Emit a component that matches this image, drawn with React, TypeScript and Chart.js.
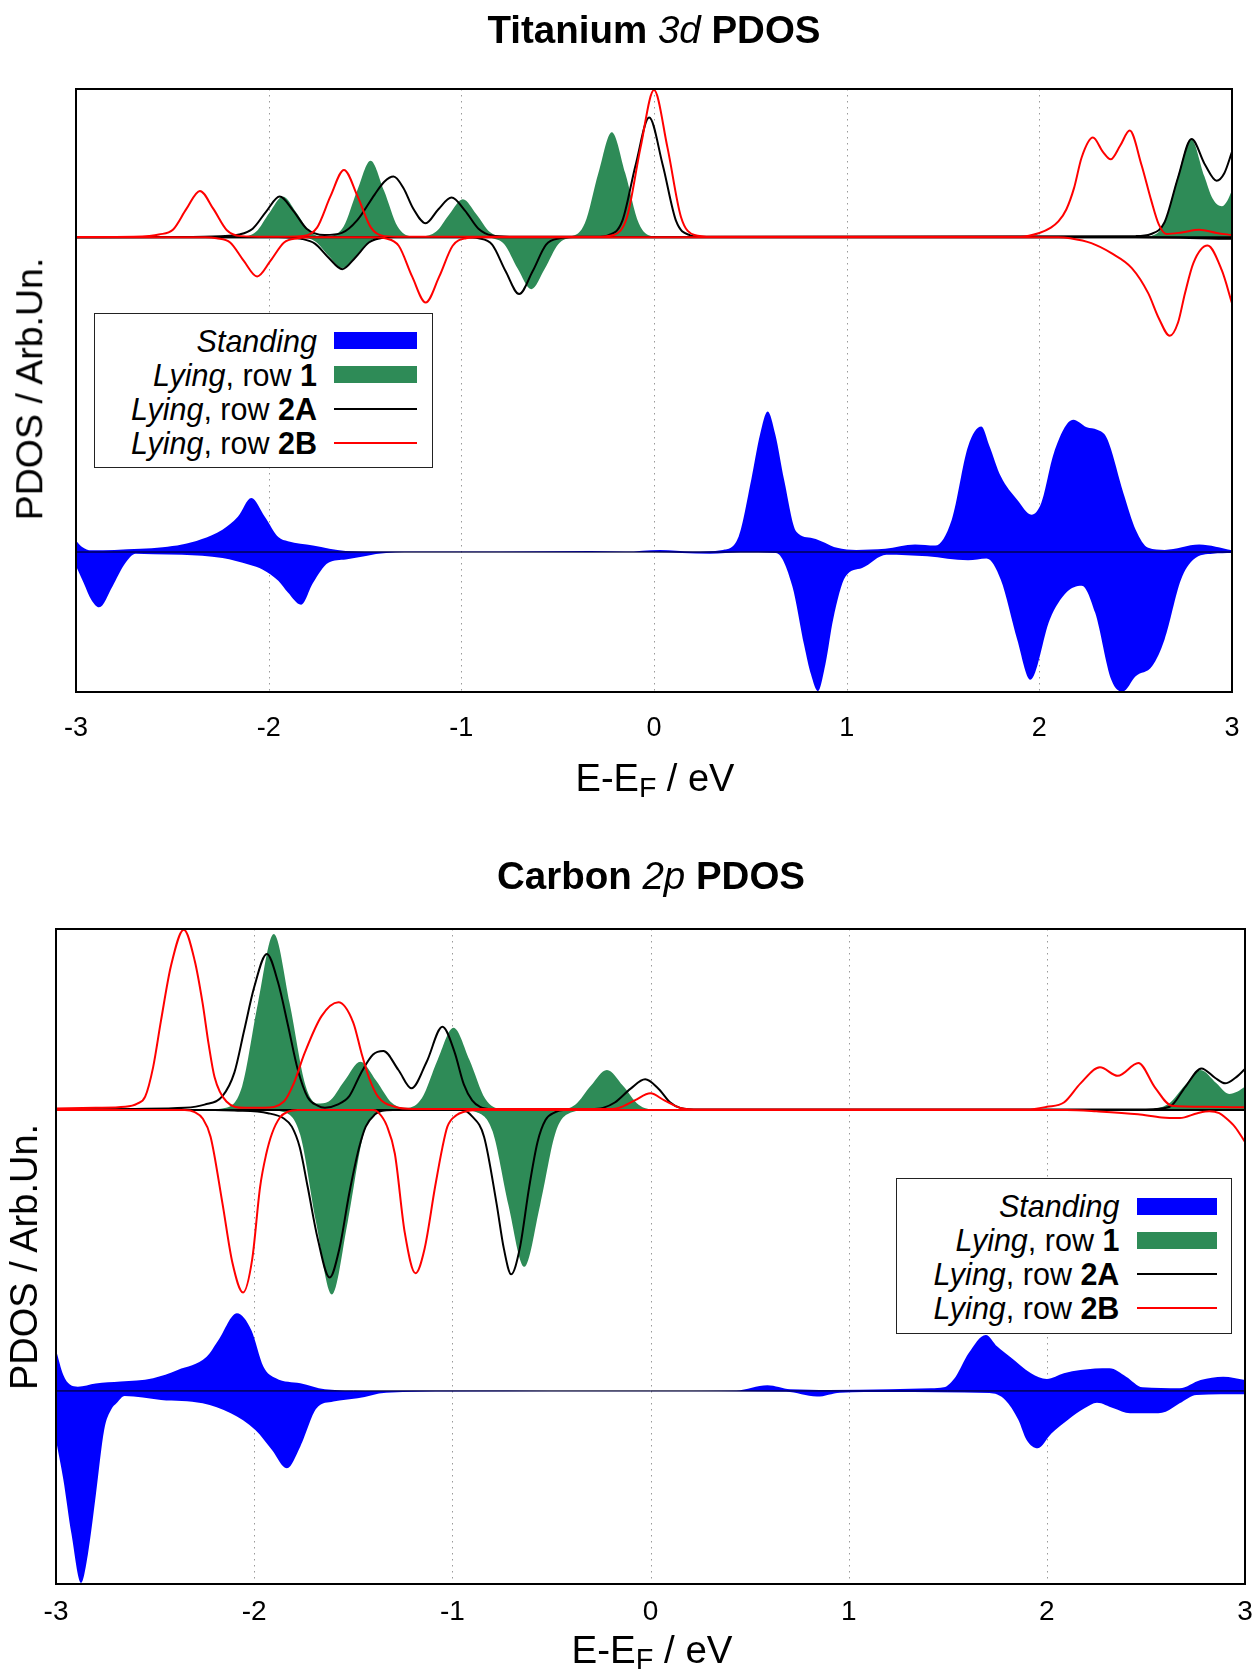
import React, { useEffect, useRef } from "react";
import { Chart, registerables } from "chart.js";

Chart.register(...registerables);

type Pt = [number, number];

const FONT = "'Liberation Sans', Arial, Helvetica, sans-serif";

// x axis tick labels (eV) and dotted grid positions
const xTickValues = [-3, -2, -1, 0, 1, 2, 3];
const gridValues = [-2, -1, 0, 1, 2];

// ---------------- Titanium 3d PDOS ----------------
// [E - E_F (eV), PDOS (arb.)]; "Up" = positive spin channel, "Dn" = negative
const tiRow1Up: Pt[] = [
  [-3, 0], [-2.2, 0], [-2.13, 0.005], [-2.066, 0.05], [-1.996, 0.23], [-1.926, 0.381], [-1.856, 0.23],
  [-1.786, 0.05], [-1.72, 0.006], [-1.68, 0.01], [-1.611, 0.1], [-1.541, 0.435], [-1.471, 0.716],
  [-1.401, 0.435], [-1.331, 0.1], [-1.262, 0.01], [-1.202, 0.008], [-1.132, 0.05], [-1.062, 0.216],
  [-0.992, 0.356], [-0.922, 0.216], [-0.852, 0.048], [-0.782, 0.004], [-0.6, 0], [-0.43, 0.01],
  [-0.359, 0.13], [-0.289, 0.6], [-0.219, 0.984], [-0.149, 0.6], [-0.079, 0.13], [-0.01, 0.01],
  [0.1, 0], [2.5, 0], [2.577, 0.01], [2.647, 0.125], [2.717, 0.56], [2.787, 0.922], [2.857, 0.57],
  [2.9, 0.36], [2.947, 0.29], [2.975, 0.34], [3.0, 0.44],
];
const tiRow1Dn: Pt[] = [
  [-3, 0], [-1.85, 0], [-1.828, -0.004], [-1.758, -0.04], [-1.688, -0.176], [-1.618, -0.29],
  [-1.548, -0.176], [-1.478, -0.04], [-1.408, -0.004], [-1.3, 0], [-0.86, 0], [-0.847, -0.005],
  [-0.777, -0.066], [-0.707, -0.296], [-0.637, -0.4875], [-0.567, -0.296], [-0.497, -0.066],
  [-0.427, -0.005], [-0.35, 0], [3, 0],
];
const tiRow2AUp: Pt[] = [
  [-3, 0], [-2.5, 0.002], [-2.25, 0.01], [-2.153, 0.025], [-2.083, 0.08], [-2.013, 0.24], [-1.943, 0.381],
  [-1.873, 0.25], [-1.803, 0.08], [-1.71, 0.02], [-1.62, 0.04], [-1.54, 0.16], [-1.45, 0.4], [-1.4, 0.52],
  [-1.352, 0.569], [-1.3, 0.46], [-1.25, 0.27], [-1.185, 0.131], [-1.12, 0.26], [-1.051, 0.372],
  [-0.981, 0.25], [-0.911, 0.08], [-0.84, 0.015], [-0.75, 0.004], [-0.3, 0.004], [-0.235, 0.02],
  [-0.165, 0.15], [-0.095, 0.68], [-0.025, 1.122], [0.045, 0.68], [0.115, 0.15], [0.185, 0.02],
  [0.25, 0.004], [2.5, 0.01], [2.58, 0.03], [2.65, 0.14], [2.72, 0.56], [2.79, 0.922], [2.86, 0.68],
  [2.92, 0.53], [2.96, 0.6], [3.0, 0.8],
];
const tiRow2ADn: Pt[] = [
  [-3, 0], [-1.95, 0], [-1.9, -0.004], [-1.83, -0.015], [-1.76, -0.06], [-1.69, -0.19], [-1.618, -0.3],
  [-1.55, -0.19], [-1.48, -0.05], [-1.42, -0.01], [-1.35, 0], [-0.98, 0], [-0.91, -0.01], [-0.84, -0.07],
  [-0.77, -0.32], [-0.7, -0.534], [-0.63, -0.32], [-0.56, -0.07], [-0.49, -0.01], [-0.42, 0], [2.5, 0],
  [3.0, -0.015],
];
const tiRow2BUp: Pt[] = [
  [-3, 0.002], [-2.7, 0.005], [-2.62, 0.012], [-2.57, 0.025], [-2.497, 0.07], [-2.427, 0.265],
  [-2.357, 0.434], [-2.287, 0.265], [-2.217, 0.065], [-2.147, 0.01], [-2.0, 0.003], [-1.82, 0.012],
  [-1.749, 0.09], [-1.679, 0.385], [-1.609, 0.631], [-1.539, 0.385], [-1.469, 0.09], [-1.4, 0.01],
  [-1.3, 0.003], [-0.3, 0.003], [-0.21, 0.02], [-0.14, 0.19], [-0.07, 0.84], [0.0, 1.38], [0.07, 0.84],
  [0.14, 0.19], [0.21, 0.02], [0.3, 0.003], [1.9, 0.005], [2.0, 0.04], [2.06, 0.09], [2.1, 0.15],
  [2.14, 0.26], [2.18, 0.46], [2.22, 0.75], [2.278, 0.934], [2.33, 0.8], [2.37, 0.73], [2.42, 0.86],
  [2.469, 1.0], [2.53, 0.68], [2.58, 0.35], [2.62, 0.12], [2.66, 0.03], [2.74, 0.045], [2.83, 0.07],
  [2.92, 0.04], [3.0, 0.02],
];
const tiRow2BDn: Pt[] = [
  [-3, 0], [-2.33, 0], [-2.27, -0.01], [-2.2, -0.05], [-2.13, -0.22], [-2.06, -0.369], [-1.99, -0.22],
  [-1.92, -0.05], [-1.85, -0.01], [-1.79, 0], [-1.45, 0], [-1.395, -0.01], [-1.325, -0.08],
  [-1.255, -0.37], [-1.185, -0.6125], [-1.115, -0.37], [-1.045, -0.08], [-0.975, -0.01], [-0.9, 0],
  [2.1, 0], [2.16, -0.01], [2.27, -0.056], [2.374, -0.15], [2.48, -0.29], [2.565, -0.525], [2.62, -0.76],
  [2.677, -0.925], [2.72, -0.8], [2.756, -0.525], [2.8, -0.24], [2.873, -0.078], [2.947, -0.31],
  [3.0, -0.62],
];
const tiStandUp: Pt[] = [
  [-3, 0.106], [-2.97, 0.05], [-2.92, 0.016], [-2.8, 0.02], [-2.665, 0.03], [-2.55, 0.045], [-2.45, 0.07],
  [-2.35, 0.12], [-2.24, 0.21], [-2.16, 0.33], [-2.09, 0.506], [-2.02, 0.33], [-1.95, 0.14], [-1.9, 0.1],
  [-1.77, 0.06], [-1.6, 0.01], [-1.4, 0.005], [-0.8, 0.004], [-0.33, 0.01], [-0.15, 0.004], [0.03, 0.02],
  [0.2, 0.005], [0.357, 0.02], [0.44, 0.147], [0.505, 0.68], [0.55, 1.1], [0.59, 1.319], [0.63, 1.1],
  [0.675, 0.68], [0.739, 0.19], [0.824, 0.13], [0.95, 0.04], [1.05, 0.02], [1.2, 0.03], [1.355, 0.07],
  [1.46, 0.06], [1.545, 0.3], [1.63, 0.99], [1.699, 1.178], [1.74, 1.0], [1.8, 0.71], [1.885, 0.49],
  [1.96, 0.35], [2.01, 0.46], [2.076, 0.93], [2.176, 1.24], [2.246, 1.17], [2.3, 1.147], [2.35, 1.07],
  [2.437, 0.55], [2.5, 0.21], [2.565, 0.04], [2.65, 0.02], [2.83, 0.07], [3.0, 0.016],
];
const tiStandDn: Pt[] = [
  [-3, -0.13], [-2.96, -0.29], [-2.92, -0.45], [-2.88, -0.519], [-2.81, -0.32], [-2.75, -0.12],
  [-2.69, -0.016], [-2.6, -0.02], [-2.45, -0.025], [-2.24, -0.056], [-2.1, -0.12], [-2.03, -0.166],
  [-1.95, -0.27], [-1.9, -0.38], [-1.832, -0.494], [-1.77, -0.29], [-1.69, -0.1], [-1.6, -0.07],
  [-1.39, -0.01], [-1.2, -0.003], [0.0, -0.003], [0.29, -0.016], [0.45, -0.005], [0.633, -0.01],
  [0.718, -0.32], [0.78, -0.88], [0.815, -1.15], [0.851, -1.306], [0.89, -1.05], [0.93, -0.63],
  [0.994, -0.23], [1.08, -0.15], [1.206, -0.025], [1.418, -0.04], [1.63, -0.078], [1.726, -0.06],
  [1.8, -0.26], [1.885, -0.82], [1.953, -1.197], [2.055, -0.63], [2.14, -0.38], [2.22, -0.316],
  [2.29, -0.57], [2.374, -1.2], [2.433, -1.31], [2.5, -1.166], [2.586, -1.07], [2.65, -0.82],
  [2.735, -0.26], [2.8, -0.07], [2.9, -0.016], [3.0, -0.01],
];

// ---------------- Carbon 2p PDOS ----------------
const cRow1Up: Pt[] = [
  [-3, 0], [-2.25, 0.003], [-2.141, 0.02], [-2.061, 0.22], [-1.981, 1.0], [-1.901, 1.65], [-1.821, 1.0],
  [-1.741, 0.23], [-1.68, 0.06], [-1.624, 0.08], [-1.544, 0.275], [-1.464, 0.453], [-1.384, 0.275],
  [-1.304, 0.065], [-1.23, 0.02], [-1.154, 0.11], [-1.074, 0.47], [-0.994, 0.77], [-0.914, 0.47],
  [-0.834, 0.105], [-0.754, 0.01], [-0.6, 0.002], [-0.46, 0.005], [-0.38, 0.05], [-0.3, 0.23],
  [-0.22, 0.375], [-0.14, 0.23], [-0.06, 0.05], [0.02, 0.005], [0.2, 0], [2.45, 0.002], [2.536, 0.01],
  [2.616, 0.06], [2.696, 0.23], [2.776, 0.375], [2.856, 0.25], [2.92, 0.15], [2.96, 0.17], [3.0, 0.22],
];
const cRow1Dn: Pt[] = [
  [-3, 0], [-1.95, 0], [-1.848, -0.02], [-1.768, -0.23], [-1.688, -1.05], [-1.608, -1.73],
  [-1.528, -1.05], [-1.448, -0.23], [-1.368, -0.02], [-1.28, 0], [-0.96, 0], [-0.877, -0.02],
  [-0.797, -0.2], [-0.717, -0.89], [-0.637, -1.47], [-0.557, -0.89], [-0.477, -0.2], [-0.397, -0.02],
  [-0.31, 0], [3, 0],
];
const cRow2AUp: Pt[] = [
  [-3, 0.005], [-2.6, 0.01], [-2.35, 0.02], [-2.25, 0.05], [-2.16, 0.13], [-2.1, 0.35], [-2.05, 0.75],
  [-2.0, 1.15], [-1.936, 1.4625], [-1.88, 1.2], [-1.83, 0.8], [-1.78, 0.38], [-1.73, 0.12], [-1.68, 0.04],
  [-1.643, 0.02], [-1.58, 0.05], [-1.52, 0.13], [-1.46, 0.35], [-1.4, 0.52], [-1.348, 0.553],
  [-1.272, 0.375], [-1.206, 0.203], [-1.13, 0.45], [-1.05, 0.78], [-0.99, 0.55], [-0.942, 0.24],
  [-0.9, 0.09], [-0.86, 0.03], [-0.8, 0.01], [-0.3, 0.01], [-0.24, 0.02], [-0.18, 0.07], [-0.1, 0.2],
  [-0.027, 0.2875], [0.04, 0.2], [0.1, 0.07], [0.15, 0.02], [0.25, 0.005], [2.5, 0.005], [2.62, 0.03],
  [2.7, 0.22], [2.78, 0.39], [2.85, 0.3], [2.9, 0.25], [2.95, 0.3], [3.0, 0.384],
];
const cRow2ADn: Pt[] = [
  [-3, 0], [-2.2, 0], [-2.1, -0.005], [-1.93, -0.03], [-1.85, -0.08], [-1.81, -0.156], [-1.77, -0.35],
  [-1.73, -0.72], [-1.68, -1.2], [-1.619, -1.57], [-1.57, -1.3], [-1.52, -0.78], [-1.47, -0.35],
  [-1.437, -0.156], [-1.39, -0.04], [-1.355, -0.006], [-1.3, 0], [-0.95, 0], [-0.9, -0.06],
  [-0.84, -0.25], [-0.777, -0.875], [-0.74, -1.3], [-0.703, -1.54], [-0.66, -1.3], [-0.612, -0.72],
  [-0.57, -0.3], [-0.53, -0.094], [-0.48, -0.02], [-0.44, 0], [3, 0],
];
const cRow2BUp: Pt[] = [
  [-3, 0.015], [-2.8, 0.02], [-2.65, 0.03], [-2.59, 0.06], [-2.55, 0.125], [-2.51, 0.4], [-2.47, 0.84],
  [-2.42, 1.35], [-2.355, 1.69], [-2.3, 1.4], [-2.26, 1.0], [-2.23, 0.62], [-2.2, 0.31], [-2.14, 0.08],
  [-2.05, 0.02], [-1.95, 0.02], [-1.85, 0.08], [-1.8, 0.25], [-1.746, 0.53], [-1.66, 0.88],
  [-1.575, 1.01], [-1.5, 0.82], [-1.458, 0.53], [-1.42, 0.3], [-1.375, 0.125], [-1.29, 0.03],
  [-1.2, 0.01], [-0.2, 0.01], [-0.16, 0.02], [-0.08, 0.09], [0.0, 0.156], [0.07, 0.09], [0.15, 0.02],
  [0.25, 0.005], [1.9, 0.005], [2.0, 0.03], [2.086, 0.07], [2.17, 0.25], [2.268, 0.4], [2.358, 0.32],
  [2.462, 0.44], [2.546, 0.21], [2.63, 0.04], [2.8, 0.03], [3.0, 0.025],
];
const cRow2BDn: Pt[] = [
  [-3, 0], [-2.35, 0], [-2.3, -0.02], [-2.26, -0.08], [-2.22, -0.25], [-2.16, -0.875], [-2.11, -1.43],
  [-2.056, -1.71], [-2.01, -1.4], [-1.97, -0.72], [-1.94, -0.42], [-1.91, -0.22], [-1.87, -0.07],
  [-1.83, -0.016], [-1.78, 0], [-1.4, 0], [-1.375, -0.02], [-1.33, -0.15], [-1.29, -0.41],
  [-1.24, -1.15], [-1.186, -1.53], [-1.14, -1.3], [-1.087, -0.72], [-1.05, -0.35], [-1.025, -0.156],
  [-0.98, -0.05], [-0.94, -0.016], [-0.88, 0], [2.1, 0], [2.25, -0.012], [2.46, -0.04], [2.58, -0.07],
  [2.672, -0.075], [2.76, -0.03], [2.82, -0.012], [2.87, -0.03], [2.9, -0.07], [2.95, -0.16],
  [3.0, -0.3],
];
const cStandUp: Pt[] = [
  [-3, 0.384], [-2.963, 0.15], [-2.93, 0.06], [-2.89, 0.04], [-2.8, 0.07], [-2.674, 0.0875],
  [-2.51, 0.12], [-2.386, 0.197], [-2.24, 0.32], [-2.18, 0.478], [-2.087, 0.728], [-2.014, 0.57],
  [-1.953, 0.228], [-1.89, 0.12], [-1.767, 0.072], [-1.643, 0.016], [-1.44, 0.003], [-0.94, 0.005],
  [-0.5, 0.003], [0.0, 0.003], [0.433, 0.005], [0.59, 0.053], [0.705, 0.016], [0.9, 0.01],
  [1.207, 0.016], [1.416, 0.025], [1.48, 0.034], [1.54, 0.134], [1.605, 0.353], [1.692, 0.525],
  [1.75, 0.416], [1.814, 0.32], [1.92, 0.166], [2.0, 0.1125], [2.086, 0.166], [2.17, 0.197],
  [2.316, 0.2125], [2.4, 0.134], [2.483, 0.034], [2.67, 0.025], [2.776, 0.103], [2.89, 0.134],
  [3.0, 0.103],
];
const cStandDn: Pt[] = [
  [-3, -0.46], [-2.963, -0.83], [-2.922, -1.34], [-2.874, -1.8], [-2.839, -1.53], [-2.798, -0.96],
  [-2.757, -0.366], [-2.72, -0.17], [-2.695, -0.116], [-2.654, -0.047], [-2.47, -0.084],
  [-2.26, -0.116], [-2.118, -0.21], [-1.994, -0.366], [-1.91, -0.553], [-1.835, -0.725],
  [-1.767, -0.52], [-1.685, -0.1625], [-1.6, -0.1], [-1.478, -0.069], [-1.334, -0.016], [-1.0, -0.005],
  [0.0, -0.003], [0.684, -0.008], [0.84, -0.053], [0.956, -0.016], [1.2, -0.01], [1.71, -0.02],
  [1.79, -0.084], [1.856, -0.27], [1.898, -0.46], [1.954, -0.5375], [2.023, -0.4], [2.107, -0.27],
  [2.19, -0.1625], [2.253, -0.11], [2.337, -0.1625], [2.42, -0.21], [2.525, -0.21], [2.6, -0.194],
  [2.67, -0.116], [2.755, -0.0375], [3.0, -0.03],
];

const COLORS = { standing: "#0000ff", row1: "#2e8b57", row2A: "#000000", row2B: "#ff0000" };

interface PanelData {
  standUp: Pt[]; standDn: Pt[]; row1Up: Pt[]; row1Dn: Pt[];
  r2aUp: Pt[]; r2aDn: Pt[]; r2bUp: Pt[]; r2bDn: Pt[];
  standOffset: number; yMin: number; yMax: number;
}

const tiPanel: PanelData = {
  standUp: tiStandUp, standDn: tiStandDn, row1Up: tiRow1Up, row1Dn: tiRow1Dn,
  r2aUp: tiRow2AUp, r2aDn: tiRow2ADn, r2bUp: tiRow2BUp, r2bDn: tiRow2BDn,
  standOffset: -2.953, yMin: -4.266, yMax: 1.39,
};
const cPanel: PanelData = {
  standUp: cStandUp, standDn: cStandDn, row1Up: cRow1Up, row1Dn: cRow1Dn,
  r2aUp: cRow2AUp, r2aDn: cRow2ADn, r2bUp: cRow2BUp, r2bDn: cRow2BDn,
  standOffset: -2.634, yMin: -4.444, yMax: 1.697,
};

const gridFramePlugin = {
  id: "gridFrame",
  beforeDatasetsDraw(chart: any) {
    const { ctx, chartArea: a, scales } = chart;
    ctx.save();
    ctx.strokeStyle = "#9a9a9a";
    ctx.lineWidth = 1;
    ctx.setLineDash([1.5, 4.5]);
    for (const v of gridValues) {
      const px = Math.round(scales.x.getPixelForValue(v)) + 0.5;
      ctx.beginPath();
      ctx.moveTo(px, a.top);
      ctx.lineTo(px, a.bottom);
      ctx.stroke();
    }
    ctx.restore();
  },
  afterDatasetsDraw(chart: any) {
    const { ctx, chartArea: a } = chart;
    ctx.save();
    ctx.strokeStyle = "#000";
    ctx.lineWidth = 2;
    ctx.setLineDash([]);
    ctx.strokeRect(a.left, a.top, a.right - a.left, a.bottom - a.top);
    ctx.restore();
  },
};

interface ChartLayout {
  top: number; height: number; padLeft: number; padRight: number; padTop: number;
  xAxisHeight: number; tickSize: number; tickPad: number;
}

function PdosChart({ data, layout }: { data: PanelData; layout: ChartLayout }) {
  const ref = useRef<HTMLCanvasElement>(null);
  useEffect(() => {
    if (!ref.current) return;
    const toXY = (pts: Pt[], off: number) => pts.map(([x, y]) => ({ x, y: y + off }));
    const fillDs = (pts: Pt[], off: number, color: string, order: number) => ({
      data: toXY(pts, off), borderWidth: 0, borderColor: color, backgroundColor: color,
      fill: { value: off }, pointRadius: 0, cubicInterpolationMode: "monotone", order,
    });
    const lineDs = (pts: Pt[], off: number, color: string, width: number, order: number) => ({
      data: toXY(pts, off), borderWidth: width, borderColor: color, backgroundColor: color,
      fill: false, pointRadius: 0, cubicInterpolationMode: "monotone", order,
    });
    const so = data.standOffset;
    const baseline: Pt[] = [[-3, 0], [3, 0]];
    const chart = new Chart(ref.current, {
      type: "line",
      data: {
        datasets: [
          fillDs(data.standUp, so, COLORS.standing, 10),
          fillDs(data.standDn, so, COLORS.standing, 10),
          fillDs(data.row1Up, 0, COLORS.row1, 9),
          fillDs(data.row1Dn, 0, COLORS.row1, 9),
          lineDs(baseline, so, "#000", 1, 5),
          lineDs(baseline, 0, "#000", 2, 5),
          lineDs(data.r2aUp, 0, COLORS.row2A, 2, 2),
          lineDs(data.r2aDn, 0, COLORS.row2A, 2, 2),
          lineDs(data.r2bUp, 0, COLORS.row2B, 2, 1),
          lineDs(data.r2bDn, 0, COLORS.row2B, 2, 1),
        ] as any,
      },
      options: {
        animation: false,
        responsive: false,
        devicePixelRatio: 1,
        layout: { padding: { left: layout.padLeft, right: layout.padRight, top: layout.padTop, bottom: 0 } },
        plugins: { legend: { display: false }, tooltip: { enabled: false }, title: { display: false } },
        scales: {
          x: {
            type: "linear", min: -3, max: 3,
            afterBuildTicks: (s: any) => { s.ticks = xTickValues.map((v) => ({ value: v })); },
            afterFit: (s: any) => {
              s.height = layout.xAxisHeight;
              s.paddingLeft = 0;
              s.paddingRight = 0;
            },
            grid: { display: false, drawTicks: false },
            border: { display: false },
            ticks: {
              color: "#000", font: { family: FONT, size: layout.tickSize },
              padding: layout.tickPad, maxRotation: 0, autoSkip: false,
              callback: (v: any) => String(v),
            },
          },
          y: { type: "linear", display: false, min: data.yMin, max: data.yMax },
        },
      } as any,
      plugins: [gridFramePlugin],
    });
    return () => chart.destroy();
  }, [data, layout]);
  return (
    <canvas
      ref={ref}
      width={1259}
      height={layout.height}
      style={{ position: "absolute", left: 0, top: layout.top, width: 1259, height: layout.height }}
    />
  );
}

function Centered({ x, y, size, bold, rotate, children }: any) {
  return (
    <div
      style={{
        position: "absolute", left: x, top: y,
        transform: `translate(-50%, -50%)${rotate ? " rotate(-90deg)" : ""}`,
        fontFamily: FONT, fontSize: size, fontWeight: bold ? "bold" : "normal",
        lineHeight: 1, whiteSpace: "nowrap", color: "#000",
      }}
    >
      {children}
    </div>
  );
}

const legendRows = [
  { kind: "fill", color: COLORS.standing, label: <><i>Standing</i></> },
  { kind: "fill", color: COLORS.row1, label: <><i>Lying</i>, row <b>1</b></> },
  { kind: "line", color: COLORS.row2A, label: <><i>Lying</i>, row <b>2A</b></> },
  { kind: "line", color: COLORS.row2B, label: <><i>Lying</i>, row <b>2B</b></> },
];
const legendRowCenters = [27, 61, 95, 129];

function Legend({ left, top, width, height, textRight, swLeft, swWidth }: any) {
  return (
    <div
      style={{
        position: "absolute", left, top, width, height, boxSizing: "border-box",
        border: "1.5px solid #222", background: "#fff",
      }}
    >
      {legendRows.map((r, i) => (
        <React.Fragment key={i}>
          <div
            style={{
              position: "absolute", right: width - textRight, top: legendRowCenters[i],
              transform: "translateY(-50%)", fontFamily: FONT, fontSize: 30.5, lineHeight: 1,
              whiteSpace: "nowrap", color: "#000",
            }}
          >
            {r.label}
          </div>
          <div
            style={{
              position: "absolute", left: swLeft, width: swWidth,
              top: legendRowCenters[i] - (r.kind === "fill" ? 8.5 : 1),
              height: r.kind === "fill" ? 17 : 2, background: r.color,
            }}
          />
        </React.Fragment>
      ))}
    </div>
  );
}

const tiLayout: ChartLayout = {
  top: 0, height: 760, padLeft: 76, padRight: 27, padTop: 89, xAxisHeight: 68, tickSize: 27, tickPad: 20,
};
const cLayout: ChartLayout = {
  top: 800, height: 873, padLeft: 56, padRight: 14, padTop: 129, xAxisHeight: 89, tickSize: 28, tickPad: 11,
};

export default function App() {
  return (
    <div
      style={{
        position: "absolute", left: 0, top: 0, width: 1259, height: 1673,
        background: "#fff", overflow: "hidden",
      }}
    >
      <PdosChart data={tiPanel} layout={tiLayout} />
      <PdosChart data={cPanel} layout={cLayout} />

      <Centered x={654} y={29.5} size={38.5} bold>
        Titanium <span style={{ fontStyle: "italic", fontWeight: "normal" }}>3d</span> PDOS
      </Centered>
      <Centered x={651} y={875.5} size={38.5} bold>
        Carbon <span style={{ fontStyle: "italic", fontWeight: "normal" }}>2p</span> PDOS
      </Centered>

      <Centered x={30.4} y={389} size={37.5} rotate>PDOS / Arb.Un.</Centered>
      <Centered x={24} y={1257} size={38} rotate>PDOS / Arb.Un.</Centered>

      <Centered x={655} y={778} size={38}>
        E-E<span style={{ fontSize: "0.75em", position: "relative", top: "0.2em" }}>F</span> / eV
      </Centered>
      <Centered x={652} y={1650} size={38.5}>
        E-E<span style={{ fontSize: "0.75em", position: "relative", top: "0.2em" }}>F</span> / eV
      </Centered>

      <Legend left={93.5} top={312.7} width={339} height={155} textRight={224.5} swLeft={239} swWidth={83} />
      <Legend left={896.4} top={1178.3} width={336} height={155.3} textRight={224} swLeft={239.6} swWidth={80} />
    </div>
  );
}
